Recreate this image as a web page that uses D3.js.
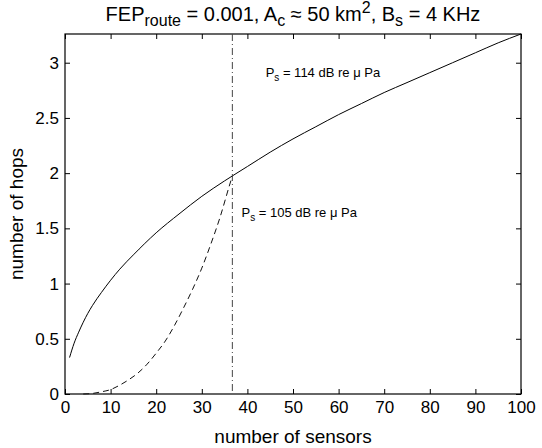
<!DOCTYPE html>
<html>
<head>
<meta charset="utf-8">
<script src="https://cdn.jsdelivr.net/npm/d3@7"></script>
<style>
  body { margin: 0; background: #fff; }
  svg { font-family: "Liberation Sans", Arial, Helvetica, sans-serif; }
  .axis path { display: none; }
  .axis line { stroke: #000; }
  .axis text { font-size: 17px; fill: #000; }
</style>
</head>
<body>
<div id="chart"></div>
<script>
// number of sensors
var sensorsSolid = [1, 2, 3, 4, 5, 6, 8, 10, 12, 15, 20, 25, 30, 35, 40, 45, 50,
                    55, 60, 65, 70, 75, 80, 85, 90, 95, 100];
// hops at P_s = 114 dB
var hopsSolid = [0.33, 0.46, 0.56, 0.65, 0.73, 0.80, 0.92, 1.03, 1.13, 1.26, 1.46,
                 1.63, 1.79, 1.93, 2.06, 2.19, 2.31, 2.42, 2.53, 2.63, 2.73, 2.82,
                 2.91, 3.00, 3.09, 3.18, 3.26];

// hops at P_s = 105 dB (stops at the crossover)
var sensorsDashed = [4, 6, 8, 10, 12, 14, 16, 18, 20, 22, 24, 26, 28, 30, 32, 34, 36, 36.7];
var hopsDashed = [0.0, 0.005, 0.02, 0.04, 0.08, 0.13, 0.19, 0.27, 0.37, 0.48, 0.62,
                  0.78, 0.95, 1.14, 1.36, 1.60, 1.88, 1.975];

var crossover = 36.7;

var xTicks = [0, 10, 20, 30, 40, 50, 60, 70, 80, 90, 100];
var yTicks = [0, 0.5, 1, 1.5, 2, 2.5, 3];

var notes = [
  {x: 44, y: 2.87, power: "114"},
  {x: 38.7, y: 1.6, power: "105"}
];

var margin = {top: 34, right: 21, bottom: 54, left: 65};
var width = 542 - margin.left - margin.right,
    height = 448 - margin.top - margin.bottom;

var svg = d3.select("#chart").append("svg")
    .attr("width", 542)
    .attr("height", 448);

var g = svg.append("g")
    .attr("transform", "translate(" + margin.left + "," + margin.top + ")");

// Scales
var x = d3.scaleLinear().domain([0, 100]).range([0, width]);
var y = d3.scaleLinear().domain([0, d3.max(hopsSolid)]).range([height, 0]);

// Axes (ticks point inward, mirrored on top and right)
g.append("g")
  .attr("class", "axis")
  .attr("transform", "translate(0," + height + ")")
  .call(d3.axisBottom(x).tickValues(xTicks).tickSizeInner(-5).tickSizeOuter(0).tickPadding(7))
  .selectAll("text").attr("dy", "0.71em");

g.append("g")
  .attr("class", "axis")
  .call(d3.axisTop(x).tickValues(xTicks).tickSizeInner(-5).tickSizeOuter(0).tickFormat(""));

g.append("g")
  .attr("class", "axis")
  .call(d3.axisLeft(y).tickValues(yTicks).tickSizeInner(-5).tickSizeOuter(0).tickPadding(6)
    .tickFormat(function(d){ return d; }));

g.append("g")
  .attr("class", "axis")
  .attr("transform", "translate(" + width + ",0)")
  .call(d3.axisRight(y).tickValues(yTicks).tickSizeInner(-5).tickSizeOuter(0).tickFormat(""));

// Frame
g.append("rect")
  .attr("width", width)
  .attr("height", height)
  .attr("fill", "none")
  .attr("stroke", "#000")
  .attr("stroke-width", 1.2);

// Curves
var line = d3.line()
  .x(function(d){ return x(d[0]); })
  .y(function(d){ return y(d[1]); })
  .curve(d3.curveMonotoneX);

g.append("path")
  .datum(d3.zip(sensorsSolid, hopsSolid))
  .attr("d", line)
  .attr("fill", "none")
  .attr("stroke", "#000")
  .attr("stroke-width", 1);

g.append("path")
  .datum(d3.zip(sensorsDashed, hopsDashed))
  .attr("d", line)
  .attr("fill", "none")
  .attr("stroke", "#111")
  .attr("stroke-width", 1)
  .attr("stroke-dasharray", "6,4");

// Crossover marker
g.append("line")
  .attr("x1", x(crossover)).attr("x2", x(crossover))
  .attr("y1", 0).attr("y2", height)
  .attr("stroke", "#444")
  .attr("stroke-width", 1)
  .attr("stroke-dasharray", "7,3,1,3");

// Annotations
notes.forEach(function(n){
  var t = g.append("text")
    .attr("x", x(n.x))
    .attr("y", y(n.y))
    .style("font-size", "13px");
  t.append("tspan").text("P");
  t.append("tspan").attr("dy", 4).style("font-size", "10px").text("s");
  t.append("tspan").attr("dy", -4).text(" = " + n.power + " dB re \u03bc Pa");
});

// Title
var title = svg.append("text")
  .attr("x", margin.left + width / 2)
  .attr("y", 21)
  .attr("text-anchor", "middle")
  .style("font-size", "20px");
title.append("tspan").text("FEP");
title.append("tspan").attr("dy", 5).style("font-size", "16px").text("route");
title.append("tspan").attr("dy", -5).text(" = 0.001, A");
title.append("tspan").attr("dy", 5).style("font-size", "16px").text("c");
title.append("tspan").attr("dy", -5).text(" \u2248 50 km");
title.append("tspan").attr("dy", -8).style("font-size", "16px").text("2");
title.append("tspan").attr("dy", 8).text(", B");
title.append("tspan").attr("dy", 5).style("font-size", "16px").text("s");
title.append("tspan").attr("dy", -5).text(" = 4 KHz");

// Axis labels
svg.append("text")
  .attr("x", margin.left + width / 2)
  .attr("y", 443)
  .attr("text-anchor", "middle")
  .style("font-size", "19px")
  .text("number of sensors");

svg.append("text")
  .attr("transform", "translate(" + 23 + "," + (margin.top + height / 2) + ")rotate(-90)")
  .attr("text-anchor", "middle")
  .style("font-size", "19px")
  .text("number of hops");
</script>
</body>
</html>
